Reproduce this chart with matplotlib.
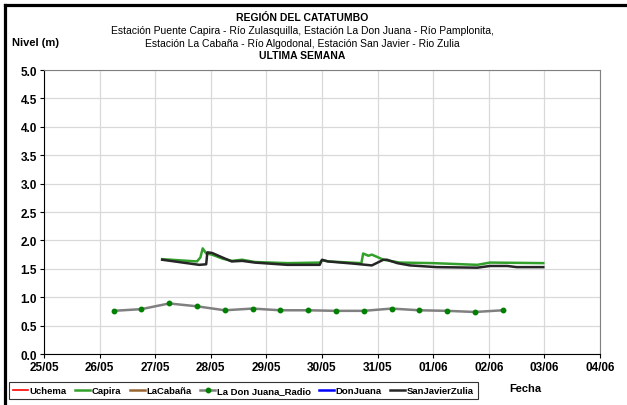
import matplotlib
matplotlib.use("Agg")
import matplotlib.pyplot as plt
from matplotlib.lines import Line2D
import pandas as pd

plt.rcParams["font.family"] = ["Liberation Sans", "DejaVu Sans"]

# Capira (green)
capira_t = ["27/05 03:00", "27/05 18:00", "27/05 19:30", "27/05 20:30", "27/05 22:00",
            "28/05 00:30", "28/05 05:00", "28/05 09:00", "28/05 13:30", "28/05 19:00",
            "29/05 09:00", "29/05 23:00", "30/05 00:00", "30/05 03:00", "30/05 12:00",
            "30/05 17:00", "30/05 17:45", "30/05 20:00", "30/05 21:30", "30/05 23:45",
            "31/05 02:30", "31/05 09:30", "01/06 00:00", "01/06 19:00", "02/06 00:30",
            "02/06 23:30"]
capira_v = [1.67, 1.63, 1.70, 1.86, 1.77, 1.75, 1.68, 1.64, 1.66, 1.62,
            1.60, 1.61, 1.65, 1.63, 1.61, 1.60, 1.77, 1.73, 1.75, 1.71,
            1.66, 1.61, 1.60, 1.57, 1.61, 1.60]

# SanJavierZulia (black)
sanjavier_t = ["27/05 03:00", "27/05 19:00", "27/05 22:00", "27/05 22:30", "28/05 00:30",
               "28/05 05:00", "28/05 09:00", "28/05 13:30", "28/05 19:00", "29/05 09:00",
               "29/05 23:00", "30/05 00:00", "30/05 02:30", "30/05 14:00", "30/05 21:30",
               "31/05 02:30", "31/05 04:00", "31/05 08:30", "31/05 14:00", "01/06 01:30",
               "01/06 19:00", "02/06 00:30", "02/06 08:00", "02/06 12:00", "02/06 23:30"]
sanjavier_v = [1.66, 1.57, 1.58, 1.79, 1.78, 1.70, 1.63, 1.64, 1.61, 1.57,
               1.57, 1.66, 1.63, 1.59, 1.56, 1.66, 1.66, 1.60, 1.56, 1.53,
               1.52, 1.55, 1.55, 1.53, 1.53]

# La Don Juana_Radio (gray line, green dots)
radio_t = ["26/05 06:00", "26/05 18:00", "27/05 06:00", "27/05 18:00", "28/05 06:00",
           "28/05 18:00", "29/05 06:00", "29/05 18:00", "30/05 06:00", "30/05 18:00",
           "31/05 06:00", "31/05 18:00", "01/06 06:00", "01/06 18:00", "02/06 06:00"]
radio_v = [0.76, 0.79, 0.89, 0.84, 0.77, 0.80, 0.77, 0.77, 0.76, 0.76,
           0.80, 0.77, 0.76, 0.74, 0.77]

x_ticks = ["25/05", "26/05", "27/05", "28/05", "29/05", "30/05",
           "31/05", "01/06", "02/06", "03/06", "04/06"]


def to_dt(labels):
    return pd.to_datetime(["2024/" + s[3:5] + "/" + s[0:2] + s[5:] for s in labels])


fig = plt.figure(figsize=(6.27, 4.06), dpi=100)
ax = fig.add_axes([0.0702, 0.1256, 0.8868, 0.6994])

ax.plot(to_dt(radio_t), radio_v, color="#808080", lw=1.8, zorder=3,
        marker="o", ms=3.2, mfc="#008000", mec="#008000")
ax.plot(to_dt(capira_t), capira_v, color="#33a02c", lw=1.8, zorder=4)
ax.plot(to_dt(sanjavier_t), sanjavier_v, color="#262626", lw=1.8, zorder=5)

tick_dt = to_dt([t + " 00:00" for t in x_ticks])
ax.set_xlim(tick_dt[0], tick_dt[-1])
ax.set_xticks(tick_dt)
ax.set_xticklabels(x_ticks)
ax.set_ylim(0, 5)
ax.set_yticks([i * 0.5 for i in range(11)])
ax.yaxis.set_major_formatter(plt.FormatStrFormatter("%.1f"))

ax.grid(True, color="#d9d9d9", lw=0.9)
ax.set_axisbelow(True)
for s in ("top", "right"):
    ax.spines[s].set_color("#808080")
for s in ("left", "bottom"):
    ax.spines[s].set_color("black")
ax.tick_params(axis="both", direction="out", length=3, width=0.8, labelsize=8.5, pad=2)
for lab in ax.get_xticklabels() + ax.get_yticklabels():
    lab.set_fontweight("bold")

# titles
fig.text(0.482, 1 - 18 / 406, "REGIÓN DEL CATATUMBO", ha="center", va="center",
         fontsize=7.5, fontweight="bold")
fig.text(0.482, 1 - 31 / 406,
         "Estación Puente Capira - Río Zulasquilla, Estación La Don Juana - Río Pamplonita,",
         ha="center", va="center", fontsize=7.5)
fig.text(0.482, 1 - 44 / 406,
         "Estación La Cabaña - Río Algodonal, Estación San Javier - Rio Zulia",
         ha="center", va="center", fontsize=7.5)
fig.text(0.482, 1 - 56 / 406, "ULTIMA SEMANA", ha="center", va="center",
         fontsize=7.5, fontweight="bold")
fig.text(12 / 627, 1 - 43 / 406, "Nivel (m)", ha="left", va="center",
         fontsize=8, fontweight="bold")
fig.text(525 / 627, 1 - 389 / 406, "Fecha", ha="center", va="center",
         fontsize=8, fontweight="bold")

# legend
handles = [
    Line2D([], [], color="red", lw=1.2),
    Line2D([], [], color="#33a02c", lw=1.8),
    Line2D([], [], color="#996633", lw=1.8),
    Line2D([], [], color="#808080", lw=1.8, marker="o", ms=3.2, mfc="#008000", mec="#008000"),
    Line2D([], [], color="blue", lw=1.8),
    Line2D([], [], color="#262626", lw=1.8),
]
labels = ["Uchema", "Capira", "LaCabaña", "La Don Juana_Radio", "DonJuana", "SanJavierZulia"]
leg = fig.legend(handles, labels, loc="center", ncol=6,
                 bbox_to_anchor=(243.5 / 627, 1 - 391.5 / 406),
                 prop={"size": 6.8, "weight": "bold"}, frameon=True, fancybox=False,
                 handlelength=1.6, handletextpad=0.15, columnspacing=0.9,
                 borderpad=0.4, borderaxespad=0)
leg.get_frame().set_edgecolor("black")
leg.get_frame().set_linewidth(0.8)

# outer black border fragments
fig.add_artist(Line2D([5 / 627, 1], [1 - 6 / 406, 1 - 6 / 406], color="black", lw=2.3,
                      transform=fig.transFigure))
fig.add_artist(Line2D([5 / 627, 5 / 627], [0, 1 - 6 / 406], color="black", lw=2.3,
                      transform=fig.transFigure))

fig.savefig("out.png", dpi=100, facecolor="white")
